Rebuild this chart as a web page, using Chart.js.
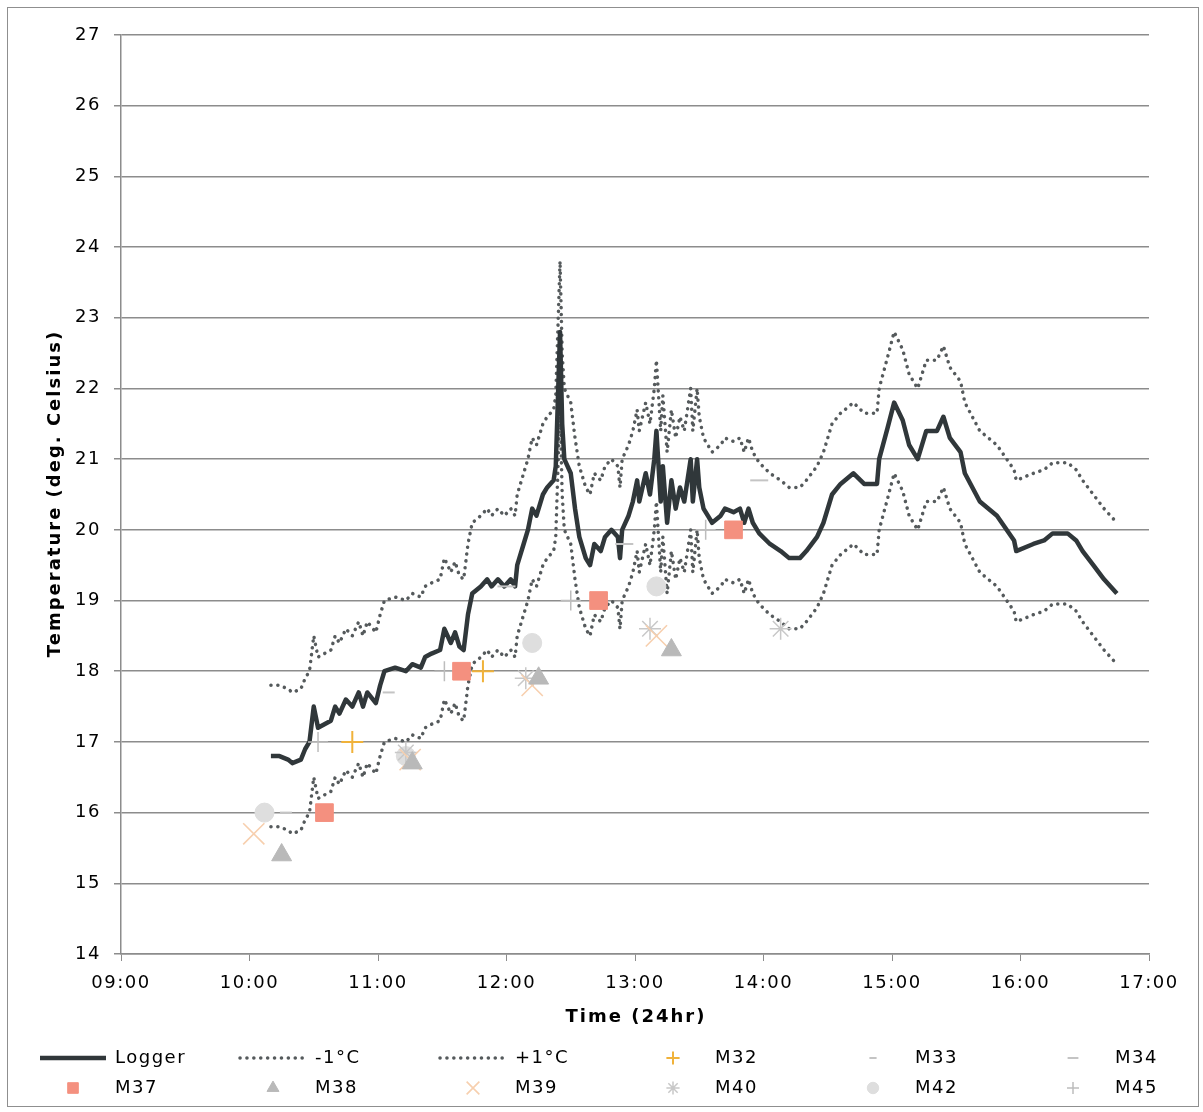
<!DOCTYPE html>
<html>
<head>
<meta charset="utf-8">
<title>Temperature (deg. Celsius)</title>
<script src="https://cdn.jsdelivr.net/npm/chart.js@4.4.1/dist/chart.umd.min.js"></script>
<style>
    html, body { margin: 0; padding: 0; background: #ffffff; }
    canvas { display: block; }
</style>
</head>
<body>
<canvas id="tempChart" width="1203" height="1112"></canvas>
<script>
// Logger readings (time of day, deg C)
const loggerTimes = [
    '10:10','10:14','10:18','10:20','10:24','10:26','10:28','10:30','10:32','10:35',
    '10:38','10:40','10:42','10:45','10:48','10:51','10:53','10:55','10:59','11:01',
    '11:03','11:08','11:13','11:16','11:20','11:22','11:25','11:29','11:31','11:34',
    '11:36','11:38','11:40','11:42','11:44','11:48','11:51','11:53','11:56','11:59',
    '12:02','12:04','12:05','12:08','12:10','12:12','12:14','12:17','12:19','12:22',
    '12:23','12:25','12:26','12:27','12:30','12:32','12:34','12:37','12:39','12:41',
    '12:44','12:46','12:49','12:52','12:53','12:54','12:57','12:59','13:01','13:02',
    '13:05','13:07','13:09','13:10','13:12','13:13','13:15','13:17','13:19','13:21',
    '13:23','13:26','13:27','13:29','13:30','13:32','13:34','13:36','13:40','13:42',
    '13:46','13:49','13:51','13:53','13:55','13:58','14:03','14:08','14:12','14:17',
    '14:20','14:25','14:28','14:32','14:36','14:42','14:47','14:53','14:54','14:58',
    '15:01','15:05','15:08','15:12','15:16','15:21','15:24','15:27','15:32','15:34',
    '15:41','15:49','15:57','15:58','16:06','16:11','16:15','16:22','16:26','16:29',
    '16:34','16:39','16:45'
];
const loggerTemps = [
    16.8, 16.8, 16.75, 16.7, 16.75, 16.9, 17.0, 17.5, 17.2, 17.25,
    17.3, 17.5, 17.4, 17.6, 17.5, 17.7, 17.5, 17.7, 17.55, 17.8,
    18.0, 18.05, 18.0, 18.1, 18.05, 18.2, 18.25, 18.3, 18.6, 18.4,
    18.55, 18.35, 18.3, 18.8, 19.1, 19.2, 19.3, 19.2, 19.3, 19.2,
    19.3, 19.2, 19.5, 19.8, 20.0, 20.3, 20.2, 20.5, 20.6, 20.7,
    20.9, 22.8, 21.5, 21.0, 20.8, 20.3, 19.9, 19.6, 19.5, 19.8,
    19.7, 19.9, 20.0, 19.9, 19.6, 20.0, 20.2, 20.4, 20.7, 20.4,
    20.8, 20.5, 21.0, 21.4, 20.4, 20.9, 20.1, 20.7, 20.3, 20.6,
    20.4, 21.0, 20.4, 21.0, 20.6, 20.3, 20.2, 20.1, 20.2, 20.3,
    20.25, 20.3, 20.1, 20.3, 20.1, 19.95, 19.8, 19.7, 19.6, 19.6,
    19.7, 19.9, 20.1, 20.5, 20.65, 20.8, 20.65, 20.65, 21.0, 21.45,
    21.8, 21.55, 21.2, 21.0, 21.4, 21.4, 21.6, 21.3, 21.1, 20.8,
    20.4, 20.2, 19.85, 19.7, 19.8, 19.85, 19.95, 19.95, 19.85, 19.7,
    19.5, 19.3, 19.1
];
// -1 deg C band (same times as logger)
const lowerTemps = [
    15.8, 15.8, 15.75, 15.7, 15.75, 15.9, 16.0, 16.5, 16.2, 16.25,
    16.3, 16.5, 16.4, 16.6, 16.5, 16.7, 16.5, 16.7, 16.55, 16.8,
    17.0, 17.05, 17.0, 17.1, 17.05, 17.2, 17.25, 17.3, 17.6, 17.4,
    17.55, 17.35, 17.3, 17.8, 18.1, 18.2, 18.3, 18.2, 18.3, 18.2,
    18.3, 18.2, 18.5, 18.8, 19.0, 19.3, 19.2, 19.5, 19.6, 19.7,
    19.9, 21.8, 20.5, 20.0, 19.8, 19.3, 18.9, 18.6, 18.5, 18.8,
    18.7, 18.9, 19.0, 18.9, 18.6, 19.0, 19.2, 19.4, 19.7, 19.4,
    19.8, 19.5, 20.0, 20.4, 19.4, 19.9, 19.1, 19.7, 19.3, 19.6,
    19.4, 20.0, 19.4, 20.0, 19.6, 19.3, 19.2, 19.1, 19.2, 19.3,
    19.25, 19.3, 19.1, 19.3, 19.1, 18.95, 18.8, 18.7, 18.6, 18.6,
    18.7, 18.9, 19.1, 19.5, 19.65, 19.8, 19.65, 19.65, 20.0, 20.45,
    20.8, 20.55, 20.2, 20.0, 20.4, 20.4, 20.6, 20.3, 20.1, 19.8,
    19.4, 19.2, 18.85, 18.7, 18.8, 18.85, 18.95, 18.95, 18.85, 18.7,
    18.5, 18.3, 18.1
];
// +1 deg C band (same times as logger)
const upperTemps = [
    17.8, 17.8, 17.75, 17.7, 17.75, 17.9, 18.0, 18.5, 18.2, 18.25,
    18.3, 18.5, 18.4, 18.6, 18.5, 18.7, 18.5, 18.7, 18.55, 18.8,
    19.0, 19.05, 19.0, 19.1, 19.05, 19.2, 19.25, 19.3, 19.6, 19.4,
    19.55, 19.35, 19.3, 19.8, 20.1, 20.2, 20.3, 20.2, 20.3, 20.2,
    20.3, 20.2, 20.5, 20.8, 21.0, 21.3, 21.2, 21.5, 21.6, 21.7,
    21.9, 23.8, 22.5, 22.0, 21.8, 21.3, 20.9, 20.6, 20.5, 20.8,
    20.7, 20.9, 21.0, 20.9, 20.6, 21.0, 21.2, 21.4, 21.7, 21.4,
    21.8, 21.5, 22.0, 22.4, 21.4, 21.9, 21.1, 21.7, 21.3, 21.6,
    21.4, 22.0, 21.4, 22.0, 21.6, 21.3, 21.2, 21.1, 21.2, 21.3,
    21.25, 21.3, 21.1, 21.3, 21.1, 20.95, 20.8, 20.7, 20.6, 20.6,
    20.7, 20.9, 21.1, 21.5, 21.65, 21.8, 21.65, 21.65, 22.0, 22.45,
    22.8, 22.55, 22.2, 22.0, 22.4, 22.4, 22.6, 22.3, 22.1, 21.8,
    21.4, 21.2, 20.85, 20.7, 20.8, 20.85, 20.95, 20.95, 20.85, 20.7,
    20.5, 20.3, 20.1
];

// Spot meter readings
const m32Times = ['10:48', '11:49'];
const m32Temps = [17.0, 18.0];
const m33Times = ['10:17', '11:05'];
const m33Temps = [16.0, 17.7];
const m34Times = ['12:00', '12:55', '13:58'];
const m34Temps = [19.2, 19.8, 20.7];
const m37Times = ['10:35', '11:39', '12:43', '13:46'];
const m37Temps = [16.0, 18.0, 19.0, 20.0];
const m38Times = ['10:15', '11:16', '12:15', '13:17'];
const m38Temps = [15.4, 16.7, 17.9, 18.3];
const m39Times = ['10:02', '11:15', '12:12', '13:10'];
const m39Temps = [15.7, 16.75, 17.8, 18.5];
const m40Times = ['11:13', '12:09', '13:07', '14:08'];
const m40Temps = [16.85, 17.9, 18.6, 18.6];
const m42Times = ['10:07', '11:13', '12:12', '13:10'];
const m42Temps = [16.0, 16.8, 18.4, 19.2];
const m45Times = ['10:32', '11:31', '12:30', '13:33'];
const m45Temps = [17.0, 18.0, 19.0, 20.0];

// Axis ticks and titles
const hourTicks = [9, 10, 11, 12, 13, 14, 15, 16, 17];
const xTitle = 'Time (24hr)';
const yTitle = 'Temperature (deg. Celsius)';
const FONT = '"DejaVu Sans", Verdana, sans-serif';

// 'HH:MM' -> decimal hours for the linear x axis
function toHours(t) {
    const parts = t.split(':');
    return Number(parts[0]) + Number(parts[1]) / 60;
}
function pairs(times, temps) {
    return times.map((t, i) => ({ x: toHours(t), y: temps[i] }));
}

function lineSet(label, times, temps, color, width, dash) {
    return {
        label: label,
        data: pairs(times, temps),
        showLine: true,
        borderColor: color,
        borderWidth: width,
        borderDash: dash,
        borderCapStyle: dash.length ? 'round' : 'butt',
        borderJoinStyle: 'round',
        pointRadius: 0,
        pointHoverRadius: 0,
        tension: 0,
        order: 1
    };
}
function markerSet(label, times, temps, style, radius, fill, stroke, width) {
    return {
        label: label,
        data: pairs(times, temps),
        showLine: false,
        pointStyle: style,
        pointRadius: radius,
        pointHoverRadius: radius,
        backgroundColor: fill,
        borderColor: stroke,
        pointBorderWidth: width,
        order: 0
    };
}

const datasets = [
    lineSet('Logger', loggerTimes, loggerTemps, '#30373a', 4.5, []),
    lineSet('-1°C', loggerTimes, lowerTemps, '#555a5c', 3.5, [0.1, 6.8]),
    lineSet('+1°C', loggerTimes, upperTemps, '#555a5c', 3.5, [0.1, 6.8]),
    markerSet('M32', m32Times, m32Temps, 'cross', 11, '#f0b23a', '#f0b23a', 2),
    markerSet('M33', m33Times, m33Temps, 'line', 6, '#c4c4c4', '#c4c4c4', 2),
    markerSet('M34', m34Times, m34Temps, 'line', 9, '#c4c4c4', '#c4c4c4', 2),
    markerSet('M37', m37Times, m37Temps, 'rect', 12.5, '#f4907f', '#f4907f', 1),
    markerSet('M38', m38Times, m38Temps, 'triangle', 11.5, '#b9b9b9', '#b9b9b9', 1),
    markerSet('M39', m39Times, m39Temps, 'crossRot', 15, '#f7cfae', '#f7cfae', 1.6),
    markerSet('M40', m40Times, m40Temps, 'star', 11, '#c8c8c8', '#c8c8c8', 1.5),
    markerSet('M42', m42Times, m42Temps, 'circle', 9.5, '#dedede', '#dedede', 1),
    markerSet('M45', m45Times, m45Temps, 'cross', 10, '#bdbdbd', '#bdbdbd', 1.5)
];

// White page, thin outer frame, and the wide-spaced text look of the original
const framePlugin = {
    id: 'frame',
    beforeDraw(chart) {
        const ctx = chart.ctx;
        ctx.save();
        ctx.fillStyle = '#ffffff';
        ctx.fillRect(0, 0, chart.width, chart.height);
        ctx.strokeStyle = '#8f8f8f';
        ctx.lineWidth = 1;
        ctx.strokeRect(7.5, 7.5, 1191, 1099);
        ctx.restore();
        ctx.letterSpacing = '1.5px'; // picked up by the tick labels
    }
};

// Axis titles plus a legend laid out in a 6 x 2 grid under the x axis title
const gridLegend = {
    id: 'gridLegend',
    afterDraw(chart) {
        const ctx = chart.ctx;
        const area = chart.chartArea;
        ctx.save();
        ctx.fillStyle = '#000000';
        ctx.textBaseline = 'middle';
        ctx.textAlign = 'center';
        ctx.font = 'bold 18px ' + FONT;
        ctx.letterSpacing = '2px';
        ctx.fillText(xTitle, (area.left + area.right) / 2 + 1, 1017);
        ctx.save();
        ctx.translate(55, (area.top + area.bottom) / 2);
        ctx.rotate(-Math.PI / 2);
        ctx.fillText(yTitle, 1, 0);
        ctx.restore();

        ctx.textAlign = 'left';
        ctx.font = '18px ' + FONT;
        ctx.letterSpacing = '1.5px';
        chart.data.datasets.forEach((ds, i) => {
            const x0 = 40 + (i % 6) * 200;
            const y = 1058 + Math.floor(i / 6) * 30;
            if (ds.showLine) {
                ctx.save();
                ctx.strokeStyle = ds.borderColor;
                ctx.lineWidth = ds.borderWidth;
                ctx.lineCap = ds.borderCapStyle;
                ctx.setLineDash(ds.borderDash);
                ctx.beginPath();
                ctx.moveTo(x0, y);
                ctx.lineTo(x0 + 66, y);
                ctx.stroke();
                ctx.restore();
            } else {
                ctx.save();
                ctx.fillStyle = ds.backgroundColor;
                ctx.strokeStyle = ds.borderColor;
                ctx.lineWidth = ds.pointBorderWidth;
                Chart.helpers.drawPoint(ctx, {
                    pointStyle: ds.pointStyle,
                    radius: ds.pointRadius * 0.6,
                    rotation: 0,
                    borderWidth: ds.pointBorderWidth
                }, x0 + 33, y);
                ctx.restore();
            }
            ctx.fillStyle = '#000000';
            ctx.fillText(ds.label, x0 + 75, y);
        });
        ctx.restore();
        ctx.letterSpacing = '0px';
    }
};

const chart = new Chart(document.getElementById('tempChart').getContext('2d'), {
    type: 'scatter',
    data: { datasets: datasets },
    options: {
        responsive: false,
        animation: false,
        events: [],
        layout: {
            padding: { left: 0, right: 54, top: 35, bottom: 80 }
        },
        plugins: {
            legend: { display: false },
            tooltip: { enabled: false }
        },
        scales: {
            x: {
                type: 'linear',
                min: 9,
                max: 17,
                afterFit: function(scale) { scale.height = 78; },
                afterBuildTicks: function(scale) {
                    scale.ticks = hourTicks.map(v => ({ value: v }));
                },
                ticks: {
                    color: '#000000',
                    font: { family: FONT, size: 18 },
                    padding: 12,
                    maxRotation: 0,
                    autoSkip: false,
                    callback: function(value) {
                        return String(value).padStart(2, '0') + ':00';
                    }
                },
                grid: {
                    drawOnChartArea: false,
                    drawTicks: true,
                    tickLength: 7,
                    color: '#8c8c8c'
                },
                border: { display: true, color: '#8c8c8c', width: 1.5 }
            },
            y: {
                min: 14,
                max: 27,
                afterFit: function(scale) { scale.width = 121; },
                ticks: {
                    stepSize: 1,
                    color: '#000000',
                    font: { family: FONT, size: 18 },
                    padding: 13
                },
                grid: {
                    color: '#8c8c8c',
                    lineWidth: 1.5,
                    drawTicks: true,
                    tickLength: 7
                },
                border: { display: true, color: '#8c8c8c', width: 1.5 }
            }
        }
    },
    plugins: [framePlugin, gridLegend]
});
</script>
</body>
</html>
